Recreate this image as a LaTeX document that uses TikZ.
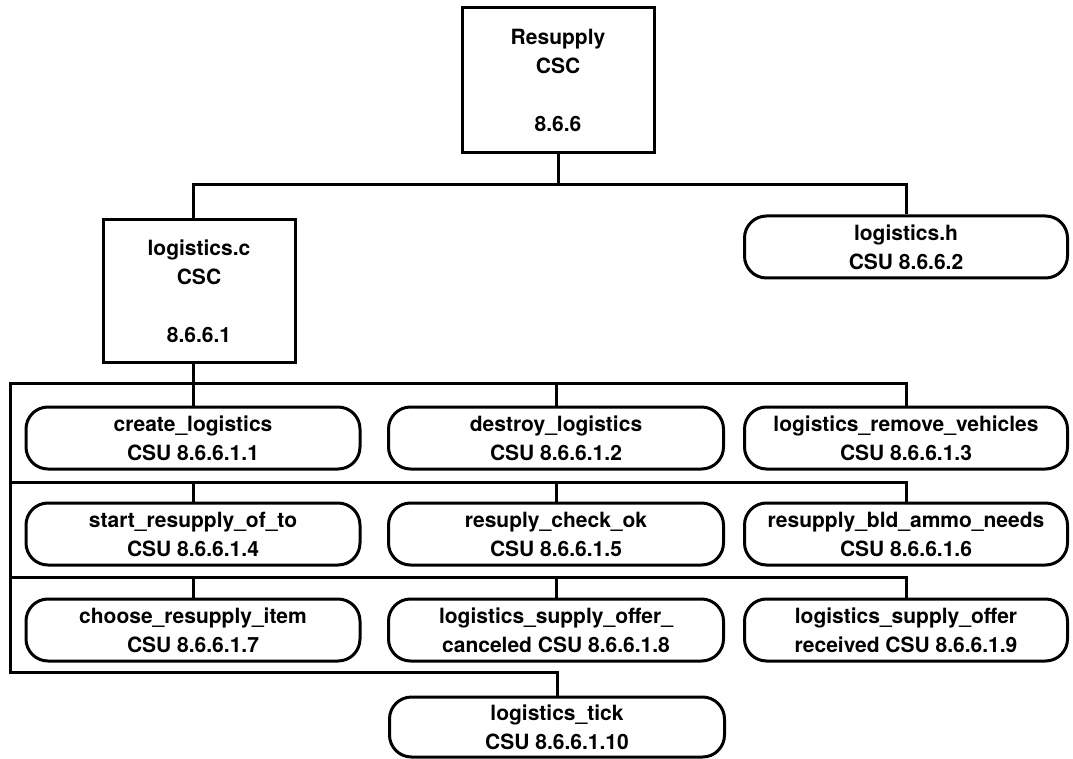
\documentclass[tikz,border=0pt]{standalone}
\usepackage{fontspec}
\setmainfont{TeX Gyre Heros}
\begin{document}
\begin{tikzpicture}[x=1pt,y=-1pt,
  line width=3pt,
  txt/.style={font=\fontsize{21}{29}\selectfont\bfseries, align=center, inner sep=0pt},
  sqbox/.style={draw, txt, minimum width=192pt, minimum height=145pt},
  csu/.style={draw, txt, rounded corners=22pt, minimum height=62pt},
  colL/.style={csu, minimum width=334pt},
  colM/.style={csu, minimum width=335pt},
  colR/.style={csu, minimum width=323pt}
]
\useasboundingbox (0,0) rectangle (1073,759);

% top level
\node[sqbox] (top) at (558,80.5) {Resupply\\CSC\\[29pt]8.6.6};
\node[sqbox, minimum width=192pt, minimum height=142pt] (lc) at (199,291) {logistics.c\\CSC\\[29pt]8.6.6.1};
\node[colR] (lh) at (906,247) {logistics.h\\CSU 8.6.6.2};

% row 1
\node[colL] (r1a) at (193,438) {create\_logistics\\CSU 8.6.6.1.1};
\node[colM] (r1b) at (556,438) {destroy\_logistics\\CSU 8.6.6.1.2};
\node[colR] (r1c) at (906,438) {logistics\_remove\_vehicles\\CSU 8.6.6.1.3};
% row 2
\node[colL] (r2a) at (193,534) {start\_resupply\_of\_to\\CSU 8.6.6.1.4};
\node[colM] (r2b) at (556,534) {resuply\_check\_ok\\CSU 8.6.6.1.5};
\node[colR] (r2c) at (906,534) {resupply\_bld\_ammo\_needs\\CSU 8.6.6.1.6};
% row 3
\node[colL] (r3a) at (193,630) {choose\_resupply\_item\\CSU 8.6.6.1.7};
\node[colM] (r3b) at (556,630) {logistics\_supply\_offer\_\\canceled CSU 8.6.6.1.8};
\node[colR] (r3c) at (906,630) {logistics\_supply\_offer\\received CSU 8.6.6.1.9};
% tick
\node[colM, minimum height=60pt] (tick) at (557,727) {logistics\_tick\\CSU 8.6.6.1.10};

% upper connectors
\coordinate (hub) at (558,185);
\draw (top.south) -- (hub);
\draw (r1a.north |- lc.north) |- (hub) -| (lh.north);

% bus
\coordinate (b0) at (10,383);
\coordinate (b1) at (10,482);
\coordinate (b2) at (10,577);
\coordinate (b3) at (10,672);
\draw (r1a.north) -- (r1a.north |- lc.south);
\draw (r1c.north) |- (b0) -- (b3) -| (tick.north);
\draw (r1b.north) -- (r1b.north |- b0);
\draw (r2c.north) |- (b1);
\draw (r2a.north) -- (r2a.north |- b1);
\draw (r2b.north) -- (r2b.north |- b1);
\draw (r3c.north) |- (b2);
\draw (r3a.north) -- (r3a.north |- b2);
\draw (r3b.north) -- (r3b.north |- b2);
\end{tikzpicture}
\end{document}
